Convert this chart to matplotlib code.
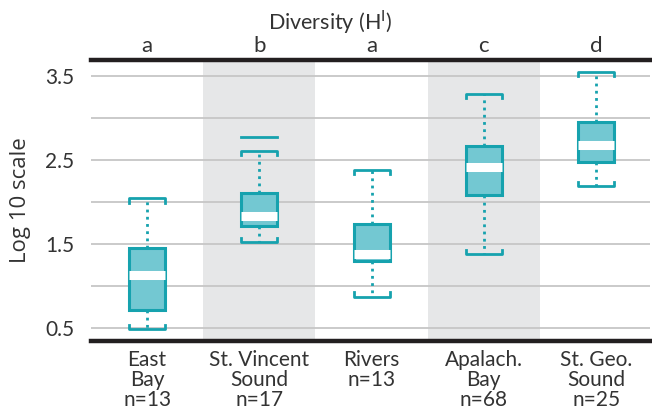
import matplotlib
matplotlib.use("Agg")
from matplotlib import pyplot as plt
import numpy as np

# box plot data (log10 scale)
sites = ["East\nBay\nn=13", "St. Vincent\nSound\nn=17", "Rivers\nn=13",
         "Apalach.\nBay\nn=68", "St. Geo.\nSound\nn=25"]
groups = ["a", "b", "a", "c", "d"]
whislo = [0.48, 1.52, 0.87, 1.38, 2.19]
q1 = [0.71, 1.71, 1.29, 2.08, 2.47]
med = [1.13, 1.83, 1.38, 2.42, 2.68]
q3 = [1.45, 2.11, 1.73, 2.66, 2.95]
whishi = [2.04, 2.61, 2.38, 3.29, 3.55]
extra_max = [None, 2.77, None, None, None]
shaded = [2, 4]

teal = "#16A2AE"
fill = "#73C8D2"
dark = "#231F20"
txt = "#333333"

plt.rcParams["font.family"] = ["Lato", "DejaVu Sans"]

fig = plt.figure(figsize=(6.52, 4.17), dpi=100)
ax = fig.add_axes([91/652, 1-340.7/417, 559/652, 280.7/417])

pos = np.arange(1, len(sites)+1)
ax.set_xlim(0.5, 5.48)
ax.set_ylim(0.345, 3.69)

for p in shaded:
    ax.axvspan(p-0.5, p+0.5, color="#E6E7E8", zorder=0, lw=0)

ax.set_yticks(np.arange(0.5, 3.51, 0.5))
ax.set_yticklabels(["0.5", "", "1.5", "", "2.5", "", "3.5"])
ax.grid(axis="y", color="#C6C6C6", lw=1.3, zorder=1)
ax.tick_params(axis="y", length=0, pad=12, labelsize=15, labelcolor=txt)

stats = []
for i in range(len(sites)):
    stats.append(dict(whislo=whislo[i], q1=q1[i], med=med[i], q3=q3[i],
                      whishi=whishi[i], fliers=[]))

bw = 0.32
ax.bxp(stats, positions=pos, widths=bw, patch_artist=True, showcaps=False,
       boxprops=dict(facecolor=fill, edgecolor=teal, lw=2.2),
       whiskerprops=dict(color=teal, lw=2, linestyle=(0, (1, 1.6))),
       medianprops=dict(color="white", lw=6.5, solid_capstyle="butt"),
       zorder=3)

# bracket caps
tick = 0.05
for i, p in enumerate(pos):
    xl, xr = p - bw/2, p + bw/2
    y = whishi[i]
    ax.plot([xl, xl, xr, xr], [y-tick, y, y, y-tick], color=teal, lw=2, zorder=4)
    y = whislo[i]
    ax.plot([xl, xl, xr, xr], [y+tick, y, y, y+tick], color=teal, lw=2, zorder=4)
    if extra_max[i] is not None:
        ax.plot([xl, xr], [extra_max[i]]*2, color=teal, lw=2, zorder=4)

ax.set_xticks(pos)
ax.set_xticklabels(sites, linespacing=1.0)
ax.tick_params(axis="x", length=0, pad=7, labelsize=15, labelcolor=txt)

for s in ["left", "right"]:
    ax.spines[s].set_visible(False)
for s in ["top", "bottom"]:
    ax.spines[s].set_color(dark)
    ax.spines[s].set_linewidth(3.2)

for p, g in zip(pos, groups):
    ax.text(p, 1.028, g, transform=ax.get_xaxis_transform(), ha="center",
            va="baseline", fontsize=16, color=txt)

fig.text(330/652, 1-29/417, r"Diversity (H$^{\mathregular{I}}$)", ha="center",
         va="baseline", fontsize=15.5, color=txt)
ax.set_ylabel("Log 10 scale", fontsize=16, color=txt, family="Open Sans",
              labelpad=10)

fig.savefig("out.png", dpi=100)
